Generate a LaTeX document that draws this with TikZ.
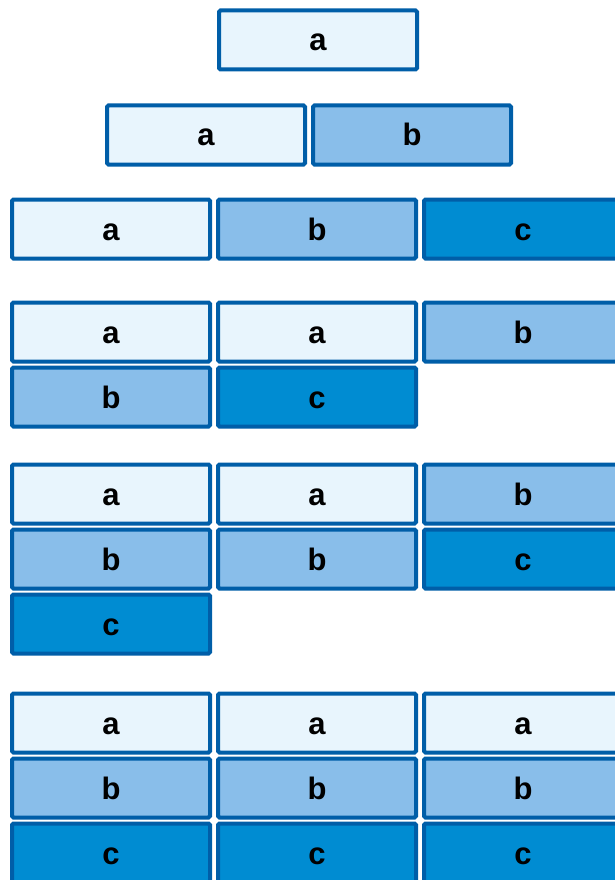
\documentclass[tikz,border=0pt]{standalone}
\usepackage{fontspec}
\setmainfont{Liberation Sans}
\begin{document}
\begin{tikzpicture}[x=1pt,y=-1pt,
  cell/.style={draw=edgeblue, line width=4pt, rounded corners=1.5pt, minimum width=198pt, minimum height=59pt, inner sep=0pt, text height=22pt, text depth=0pt, font=\fontsize{31}{31}\selectfont\bfseries, text=black},
  ca/.style={cell, fill=lightfill},
  cb/.style={cell, fill=midfill},
  cc/.style={cell, fill=darkfill}]
\definecolor{edgeblue}{RGB}{0,94,168}
\definecolor{lightfill}{RGB}{232,245,253}
\definecolor{midfill}{RGB}{137,190,234}
\definecolor{darkfill}{RGB}{0,140,210}
\useasboundingbox (0,0) rectangle (614,880);
% row 1
\node[ca] (r1a) at (318,40) {a};
% row 2
\node[ca] (r2a) at (206,135) {a};
\node[cb] (r2b) at (412,135) {b};
% row 3
\node[ca] (r3a) at (111,229) {a};
\node[cb] (r3b) at (317,229) {b};
\node[cc] (r3c) at (523,229) {c};
% row 4
\node[ca] (r4a1) at (111,332) {a};
\node[ca] (r4a2) at (317,332) {a};
\node[cb] (r4b1) at (523,332) {b};
\node[cb] (r4b2) at (111,397) {b};
\node[cc] (r4c) at (317,397) {c};
% row 5
\node[ca] (r5a1) at (111,494) {a};
\node[ca] (r5a2) at (317,494) {a};
\node[cb] (r5b1) at (523,494) {b};
\node[cb] (r5b2) at (111,559) {b};
\node[cb] (r5b3) at (317,559) {b};
\node[cc] (r5c1) at (523,559) {c};
\node[cc] (r5c2) at (111,624) {c};
% row 6
\node[ca] (r6a1) at (111,723) {a};
\node[ca] (r6a2) at (317,723) {a};
\node[ca] (r6a3) at (523,723) {a};
\node[cb] (r6b1) at (111,788) {b};
\node[cb] (r6b2) at (317,788) {b};
\node[cb] (r6b3) at (523,788) {b};
\node[cc] (r6c1) at (111,853) {c};
\node[cc] (r6c2) at (317,853) {c};
\node[cc] (r6c3) at (523,853) {c};
\end{tikzpicture}
\end{document}
